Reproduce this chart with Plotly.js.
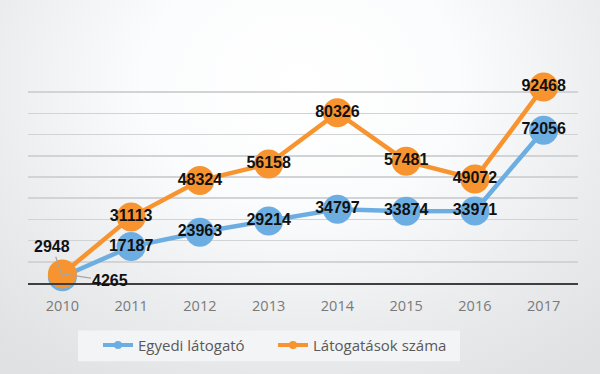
<!DOCTYPE html>
<html>
<head>
<meta charset="utf-8">
<script src="https://cdn.plot.ly/plotly-3.0.1.min.js"></script>
<style>
  html, body { margin:0; padding:0; }
  body {
    width:600px; height:374px; overflow:hidden;
    background: radial-gradient(ellipse 75% 95% at 50% 22%, #ffffff 0%, #fbfcfd 35%, #eaeced 70%, #e0e1e2 100%);
  }
  #chart { width:600px; height:374px; }
</style>
</head>
<body>
<div id="chart"></div>
<script>
const years = ['2010','2011','2012','2013','2014','2015','2016','2017'];
const egyedi = [2948, 17187, 23963, 29214, 34797, 33874, 33971, 72056];
const latogatasok = [4265, 31113, 48324, 56158, 80326, 57481, 49072, 92468];
const seriesNames = ['Egyedi látogató', 'Látogatások száma'];

const blue = '#6DAEE2';
const orange = '#F7942F';
const labelFont = {family:'Liberation Sans, Arial, sans-serif', size:16, color:'#111111', weight:'bold'};

function labels(arr){ return arr.map((v,i)=> i===0 ? '' : String(v)); }

const traces = [
  {x:years, y:egyedi, name:seriesNames[0], mode:'lines+markers+text', showlegend:false,
   line:{color:blue, width:4.5}, marker:{color:blue, size:29},
   text:labels(egyedi), textposition:'middle center', textfont:labelFont, cliponaxis:false, hoverinfo:'skip'},
  {x:years, y:latogatasok, name:seriesNames[1], mode:'lines+markers+text', showlegend:false,
   line:{color:orange, width:4.5}, marker:{color:orange, size:29},
   text:labels(latogatasok), textposition:'middle center', textfont:labelFont, cliponaxis:false, hoverinfo:'skip'},
  {x:[null], y:[null], name:seriesNames[0], mode:'lines+markers', line:{color:blue, width:4}, marker:{color:blue, size:8}},
  {x:[null], y:[null], name:seriesNames[1], mode:'lines+markers', line:{color:orange, width:4}, marker:{color:orange, size:8}}
];

const layout = {
  width:600, height:374,
  margin:{l:28, r:22, t:71, b:90.5},
  paper_bgcolor:'rgba(0,0,0,0)',
  plot_bgcolor:'rgba(0,0,0,0)',
  showlegend:true,
  xaxis:{type:'category', range:[-0.5,7.5], showgrid:false, zeroline:false,
         showline:true, linecolor:'#3f3f3f', linewidth:2, ticks:'',
         ticklabelstandoff:9,
         tickfont:{family:'Open Sans, sans-serif', size:14.5, color:'#7a7a7a'}},
  yaxis:{range:[0,100000], dtick:10000, showgrid:true, gridcolor:'#d2d3d4', gridwidth:1.6,
         zeroline:false, showticklabels:false, ticks:'', fixedrange:true},
  legend:{orientation:'h', x:0.5 - 30/550, xanchor:'center', y:-(346-283.5)/212.5, yanchor:'middle',
          bgcolor:'rgba(0,0,0,0)', entrywidth:130,
          font:{family:'Open Sans, sans-serif', size:15, color:'#595959'}},
  shapes:[
    {type:'rect', xref:'paper', yref:'paper', x0:(78-28)/550, x1:(460-28)/550,
     y0:-(362-283.5)/212.5, y1:-(331-283.5)/212.5, fillcolor:'#f3f4f5', line:{width:0}, layer:'below'}
  ],
  annotations:[
    {xref:'x', yref:'y', x:0, y:egyedi[0], text:String(egyedi[0]), showarrow:true, arrowhead:0, arrowwidth:1.2,
     arrowcolor:'#a6a6a6', axref:'pixel', ayref:'pixel', ax:-10, ay:-30,
     font:{family:'Liberation Sans, Arial, sans-serif', size:16, color:'#111111', weight:'bold'}},
    {xref:'x', yref:'y', x:0, y:latogatasok[0], text:String(latogatasok[0]), showarrow:true, arrowhead:0, arrowwidth:1.2,
     arrowcolor:'#a6a6a6', axref:'pixel', ayref:'pixel', ax:48, ay:7,
     font:{family:'Liberation Sans, Arial, sans-serif', size:16, color:'#111111', weight:'bold'}}
  ]
};

Plotly.newPlot('chart', traces, layout, {displayModeBar:false, staticPlot:true});
</script>
</body>
</html>
